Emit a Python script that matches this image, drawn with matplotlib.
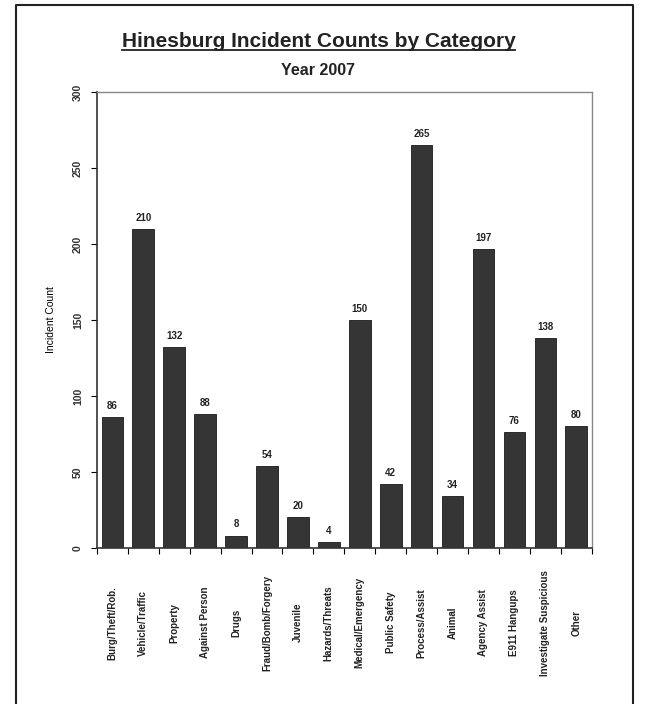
"""
Hinesburg incident counts by category, 2007
"""

import matplotlib
matplotlib.use('Agg')
import matplotlib.pyplot as plt
from matplotlib.lines import Line2D
import numpy as np

plt.rcParams['font.family'] = ['Liberation Sans', 'DejaVu Sans']

categories = [
    'Burg/Theft/Rob.', 'Vehicle/Traffic', 'Property', 'Against Person',
    'Drugs', 'Fraud/Bomb/Forgery', 'Juvenile', 'Hazards/Threats',
    'Medical/Emergency', 'Public Safety', 'Process/Assist', 'Animal',
    'Agency Assist', 'E911 Hangups', 'Investigate Suspicious', 'Other',
]
counts = [86, 210, 132, 88, 8, 54, 20, 4, 150, 42, 265, 34, 197, 76, 138, 80]
y_ticks = [0, 50, 100, 150, 200, 250, 300]

BAR_COLOR = '#353535'

fig = plt.figure(figsize=(6.46, 7.04), dpi=100)
ax = fig.add_axes([0.150, 0.222, 0.766, 0.647])

x = np.arange(len(categories))
ax.bar(x, counts, width=0.7, color=BAR_COLOR, edgecolor='#1a1a1a', linewidth=0.6)

for xi, v in zip(x, counts):
    ax.text(xi, v + 4, str(v), ha='center', va='bottom',
            fontsize=7, fontweight='bold', color='#222222')

ax.set_xlim(-0.5, len(categories) - 0.5)
ax.set_ylim(0, 300)
ax.set_yticks(y_ticks)
ax.set_yticklabels([str(t) for t in y_ticks], rotation=90, va='center',
                   fontsize=7.5, fontweight='bold', color='#333333')
ax.tick_params(axis='y', direction='out', length=4, width=0.8, pad=6)

# category labels centred under bars, ticks on category boundaries
ax.set_xticks(x)
ax.set_xticklabels(categories, rotation=90, va='center', ha='center',
                   fontsize=7, fontweight='bold', color='#222222')
ax.tick_params(axis='x', which='major', length=0, pad=54)
ax.set_xticks(np.arange(-0.5, len(categories)), minor=True)
ax.tick_params(axis='x', which='minor', direction='out', length=4, width=0.8)

ax.set_ylabel('Incident Count', fontsize=7.5, labelpad=12)

for side in ['left', 'bottom']:
    ax.spines[side].set_linewidth(1.2)
    ax.spines[side].set_color('#333333')
for side in ['top', 'right']:
    ax.spines[side].set_linewidth(1.0)
    ax.spines[side].set_color('#888888')

# title with underline
title = fig.text(0.493, 0.933, 'Hinesburg Incident Counts by Category',
                 ha='center', va='baseline', fontsize=15, fontweight='bold',
                 color='#222222')
fig.text(0.493, 0.894, 'Year 2007', ha='center', va='baseline',
         fontsize=11.5, fontweight='bold', color='#222222')

fig.canvas.draw()
bb = title.get_window_extent().transformed(fig.transFigure.inverted())
uy = bb.y0 + 0.001
fig.add_artist(Line2D([bb.x0, bb.x1], [uy, uy], transform=fig.transFigure,
                      color='#222222', linewidth=1.3))

# outer frame
W, H = 646, 704
fx0, fx1, fy1 = 16 / W, 633 / W, 1 - 5 / H
fig.add_artist(Line2D([fx0, fx0, fx1, fx1], [0, fy1, fy1, 0],
                      transform=fig.transFigure, color='#222222', linewidth=1.5))

fig.savefig('out.png', dpi=100)
